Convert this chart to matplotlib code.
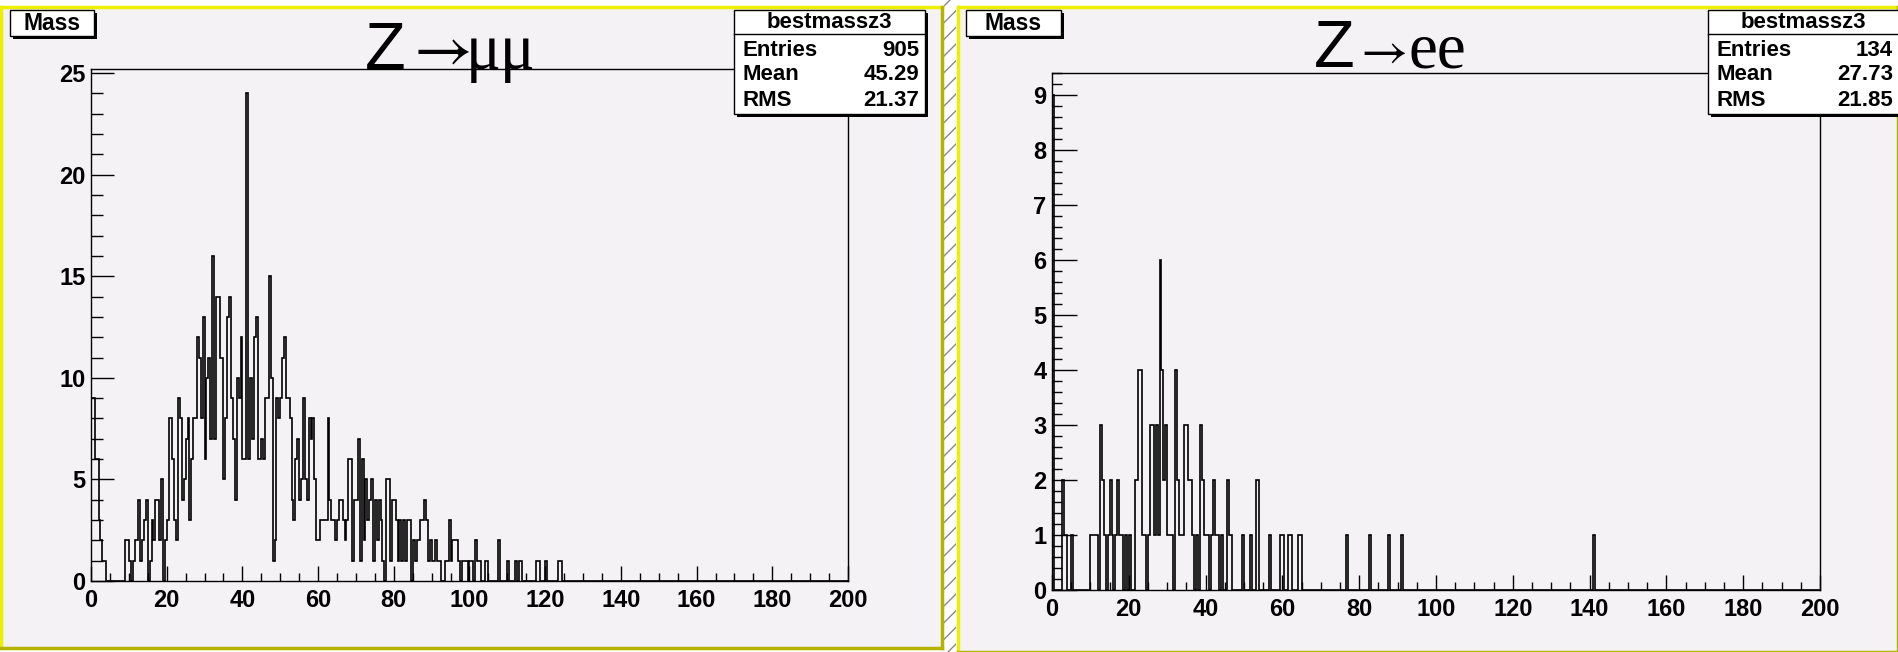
import numpy as np
import matplotlib
matplotlib.use("Agg")
import matplotlib.pyplot as plt
from matplotlib.patches import Rectangle
from matplotlib.lines import Line2D
from matplotlib.ticker import MultipleLocator

# ---- data (bin width 0.5, range 0-200) ----
BIN_W = 0.5
# Z->mumu : counts for bins starting at 0.0, 0.5, ... 124.5
mumu_counts = [
    9, 9, 6, 6, 3, 2, 1, 1, 0, 0, 0, 0, 0, 0, 0, 0, 0, 0, 2, 2,
    1, 0, 1, 2, 2, 4, 1, 2, 3, 4, 0, 1, 3, 2, 4, 4, 2, 5, 0, 2,
    3, 8, 8, 6, 3, 2, 9, 8, 4, 5, 7, 8, 3, 6, 8, 8, 12, 11, 8, 13,
    6, 10, 11, 7, 16, 7, 14, 14, 11, 11, 5, 8, 13, 14, 9, 7, 4, 10, 9, 12,
    6, 6, 24, 6, 10, 7, 12, 13, 6, 6, 7, 6, 9, 9, 15, 10, 1, 2, 9, 8,
    9, 11, 12, 9, 9, 8, 4, 3, 6, 7, 4, 5, 9, 5, 4, 8, 7, 8, 5, 2,
    2, 3, 3, 3, 3, 8, 4, 3, 3, 2, 3, 4, 4, 3, 2, 3, 6, 6, 1, 4,
    4, 7, 1, 6, 2, 5, 3, 4, 5, 1, 4, 2, 4, 3, 1, 0, 5, 5, 1, 4,
    4, 3, 1, 3, 1, 3, 1, 3, 3, 0, 2, 1, 2, 2, 3, 3, 4, 3, 1, 2,
    1, 1, 2, 1, 1, 0, 0, 1, 1, 3, 1, 2, 2, 2, 1, 0, 1, 1, 1, 0,
    1, 1, 0, 2, 1, 1, 0, 0, 1, 1, 0, 0, 0, 0, 0, 2, 0, 0, 0, 0,
    1, 0, 0, 0, 1, 0, 1, 1, 0, 0, 0, 0, 0, 0, 0, 1, 1, 0, 0, 0,
    1, 0, 0, 0, 0, 0, 0, 1, 1, 0,
]
# Z->ee : counts for bins starting at 0.0 ... 64.5, plus a few isolated entries
ee_counts = [
    9, 0, 0, 0, 0, 2, 1, 1, 0, 0, 1, 0, 0, 0, 0, 0, 0, 0, 0, 0,
    1, 1, 1, 1, 0, 3, 2, 1, 0, 1, 2, 1, 0, 1, 2, 1, 1, 0, 1, 0,
    1, 0, 0, 2, 2, 4, 4, 1, 1, 0, 1, 3, 3, 1, 3, 1, 6, 4, 2, 3,
    1, 1, 1, 0, 4, 2, 1, 1, 1, 3, 3, 2, 2, 1, 0, 1, 0, 3, 2, 1,
    1, 1, 0, 1, 2, 1, 1, 0, 1, 0, 0, 2, 1, 1, 0, 0, 0, 0, 0, 1,
    0, 0, 0, 1, 0, 0, 2, 2, 0, 0, 0, 0, 0, 1, 0, 0, 0, 0, 0, 1,
    1, 0, 0, 1, 1, 0, 0, 0, 1, 1,
]
ee_tail_x = [76.5, 82.5, 87.5, 91.0, 141.0]
ee_tail_n = [1, 1, 1, 1, 1]

particles = ["\u03bc\u03bc", "ee"]
stat_names = ["Entries", "Mean", "RMS"]
stat_mumu = ["905", "45.29", "21.37"]
stat_ee = ["134", "27.73", "21.85"]

W, H = 1899, 652
PAD_BG = "#f5f2f5"
BOLD = {"family": ["Liberation Sans", "DejaVu Sans"], "weight": "bold"}
plt.rcParams["mathtext.fontset"] = "stix"


def fx(px):
    return px / W


def fy(py):
    return 1 - py / H


def to_hist(counts, tail_x=(), tail_n=()):
    edges = np.arange(0, 200 + BIN_W / 2, BIN_W)
    h = np.zeros(len(edges) - 1)
    h[:len(counts)] = counts
    for x, n in zip(tail_x, tail_n):
        h[int(round(x / BIN_W))] += n
    return edges, h


def pave(fig, x0, y0, x1, y1, sh=3):
    # ROOT style box with drop shadow, pixel coords (top-left origin)
    fig.add_artist(Rectangle((fx(x0 + sh), fy(y1 + sh)), (x1 - x0) / W, (y1 - y0) / H,
                             transform=fig.transFigure, fc="black", ec="none", zorder=5))
    fig.add_artist(Rectangle((fx(x0), fy(y1)), (x1 - x0) / W, (y1 - y0) / H,
                             transform=fig.transFigure, fc="white", ec="black", lw=1.0, zorder=6))


def pad(fig, x0, y0, x1, y1):
    fig.add_artist(Rectangle((fx(x0), fy(y1)), (x1 - x0) / W, (y1 - y0) / H,
                             transform=fig.transFigure, fc=PAD_BG, ec="none", zorder=-5))
    lite, dark = "#eeee00", "#b4b400"
    for xs, ys, c in [((x0, x1), (y0, y0), lite), ((x0, x0), (y0, y1), lite),
                      ((x0, x1), (y1, y1), dark), ((x1, x1), (y0, y1), dark)]:
        fig.add_artist(Line2D([fx(v) for v in xs], [fy(v) for v in ys], transform=fig.transFigure,
                              color=c, lw=2.5, zorder=-4))


def style_axis(ax, ymax, ymaj, ymin, ymaj_len, ymin_len):
    ax.set_facecolor(PAD_BG)
    ax.set_xlim(0, 200)
    ax.set_ylim(0, ymax)
    ax.xaxis.set_major_locator(MultipleLocator(20))
    ax.xaxis.set_minor_locator(MultipleLocator(5))
    ax.yaxis.set_major_locator(MultipleLocator(ymaj))
    ax.yaxis.set_minor_locator(MultipleLocator(ymin))
    ax.tick_params(which="both", direction="in", top=False, right=False, width=1.0, colors="black")
    ax.tick_params(axis="x", which="major", length=11, pad=6)
    ax.tick_params(axis="x", which="minor", length=6)
    ax.tick_params(axis="y", which="major", length=ymaj_len, pad=4)
    ax.tick_params(axis="y", which="minor", length=ymin_len)
    for lab in ax.get_xticklabels() + ax.get_yticklabels():
        lab.set_fontfamily(BOLD["family"])
        lab.set_fontweight("bold")
        lab.set_fontsize(17)
    for s in ax.spines.values():
        s.set_linewidth(1.0)


fig = plt.figure(figsize=(W / 100, H / 100), dpi=100)
fig.patch.set_facecolor("white")

pad(fig, 1, 7, 942, 648)
pad(fig, 958, 7, 1898, 652)
fig.add_artist(Rectangle((fx(944), 0), 12 / W, 1, transform=fig.transFigure, fc="white",
                         ec="#8a8a8a", lw=0, hatch="//", zorder=-5))

axL = fig.add_axes([fx(91), fy(581), (848 - 91) / W, (581 - 69) / H])
axR = fig.add_axes([fx(1052), fy(590), (1820 - 1052) / W, (590 - 73) / H])

e, h = to_hist(mumu_counts)
axL.stairs(h, e, baseline=0, color="black", lw=1.2)
e, h = to_hist(ee_counts, ee_tail_x, ee_tail_n)
axR.stairs(h, e, baseline=0, color="black", lw=1.2)

style_axis(axL, 25.2, 5, 1, 16.5, 8.5)
style_axis(axR, 9.4, 1, 0.2, 18, 7)

# title "Z -> .." : sans Z, serif arrow and particles
for xz, arr_size, xp, yb, part in [(406, 46, 466, 69, particles[0]),
                                   (1355, 37, 1409, 67, particles[1])]:
    fig.text(fx(xz), fy(yb), "Z", ha="right", va="baseline", fontsize=48,
             family=["Liberation Sans", "DejaVu Sans"], zorder=10)
    fig.text(fx(xz - 2), fy(yb - 2), r"$\rightarrow$", ha="left", va="baseline", fontsize=arr_size,
             zorder=10)
    fig.text(fx(xp), fy(yb), part, ha="left", va="baseline", fontsize=47,
             family=["Liberation Serif", "DejaVu Serif"], zorder=10)

# "Mass" label boxes
for x0, x1 in [(10, 94), (966, 1061)]:
    pave(fig, x0, 10, x1, 36)
    fig.text(fx((x0 + x1) / 2), fy(23.5), "Mass", ha="center", va="center", fontsize=16.5,
             zorder=10, **BOLD)

# statistics boxes
for x0, x1, vals in [(734, 925, stat_mumu), (1708, 1905, stat_ee)]:
    pave(fig, x0, 10, x1, 114)
    fig.add_artist(Line2D([fx(x0), fx(x1)], [fy(34), fy(34)], transform=fig.transFigure,
                          color="black", lw=1.0, zorder=7))
    fig.text(fx((x0 + min(x1, 1899)) / 2), fy(22), "bestmassz3", ha="center", va="center",
             fontsize=16, zorder=10, **BOLD)
    for i, (name, v) in enumerate(zip(stat_names, vals)):
        yy = 50 + 25 * i
        fig.text(fx(x0 + 9), fy(yy), name, ha="left", va="center", fontsize=16, zorder=10, **BOLD)
        fig.text(fx(min(x1, 1899) - 6), fy(yy), v, ha="right", va="center", fontsize=16,
                 zorder=10, **BOLD)

fig.savefig("out.png", dpi=100, facecolor="white")
